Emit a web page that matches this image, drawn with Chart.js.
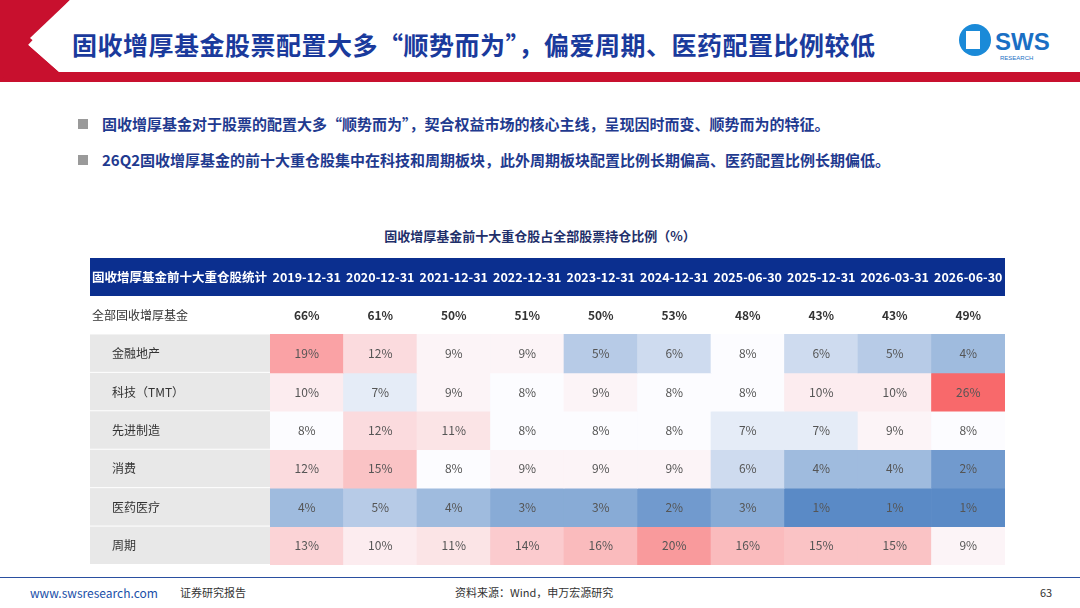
<!DOCTYPE html>
<html><head><meta charset="utf-8">
<script src="https://cdn.jsdelivr.net/npm/chart.js@4"></script>
<style>
body{margin:0;width:1080px;height:608px;overflow:hidden;background:#fff;font-family:"Noto Sans CJK SC","Noto Sans",sans-serif;position:relative}
.abs{position:absolute}
#title{left:72px;top:26px;font-size:25px;font-weight:bold;color:#1a3a9c;letter-spacing:0.5px}
.bul{left:78px;font-size:15px;font-weight:bold;color:#1f3a8f}
.bul span{display:inline-block;width:10px;height:10px;background:#9a9a9a;margin-right:14px;vertical-align:1px}
#ctitle{left:0;width:1080px;top:226px;text-align:center;font-size:13px;font-weight:bold;color:#1f2f6a}
.foot{top:584px;font-size:12px;color:#333}
</style></head><body>
<svg class="abs" style="left:0;top:0" width="1080" height="85">
<polygon points="0,0 70,0 28,45 70,82 0,82" fill="#c8102e"/>
<polygon points="70,0 1080,0 1080,72 70,72 30,38" fill="#fff"/>
<rect x="40" y="72" width="1040" height="10" fill="#c8102e"/>
<polygon points="0,82 70,82 28,45" fill="#c8102e"/>
<circle cx="975" cy="40" r="16" fill="#1a8ad8"/>
<rect x="966" y="31" width="14" height="18" fill="#fff"/>
<text x="995" y="50" font-size="24" font-weight="bold" fill="#1a6fc4" font-family="Liberation Sans">SWS</text>
<text x="1000" y="60" font-size="6" fill="#1a6fc4" font-family="Liberation Sans">RESEARCH</text>
</svg>
<div id="title" class="abs">固收增厚基金股票配置大多“顺势而为”，偏爱周期、医药配置比例较低</div>
<div class="abs bul" style="top:113px"><span></span>固收增厚基金对于股票的配置大多“顺势而为”，契合权益市场的核心主线，呈现因时而变、顺势而为的特征。</div>
<div class="abs bul" style="top:149px"><span></span>26Q2固收增厚基金的前十大重仓股集中在科技和周期板块，此外周期板块配置比例长期偏高、医药配置比例长期偏低。</div>
<div id="ctitle" class="abs">固收增厚基金前十大重仓股占全部股票持仓比例（%）</div>
<div class="abs" style="left:90px;top:258px;width:915px;height:307px"><canvas id="chart"></canvas></div>
<div class="abs" style="left:0;top:577px;width:1080px;height:1px;background:#2a4fa0"></div>
<div class="abs foot" style="left:30px;color:#1a4fa8">www.swsresearch.com</div>
<div class="abs foot" style="left:180px;font-size:11px">证券研究报告</div>
<div class="abs foot" style="left:455px;font-size:11px">资料来源：Wind，申万宏源研究</div>
<div class="abs foot" style="left:1040px;font-size:11px">63</div>
<script>
const headCorner = '固收增厚基金前十大重仓股统计';
const dates = ['2019-12-31','2020-12-31','2021-12-31','2022-12-31','2023-12-31','2024-12-31','2025-06-30','2025-12-31','2026-03-31','2026-06-30'];
const rowNames = ['全部固收增厚基金','金融地产','科技（TMT）','先进制造','消费','医药医疗','周期'];
const total   = [66,61,50,51,50,53,48,43,43,49];
const finance = [19,12,9,9,5,6,8,6,5,4];
const tech    = [10,7,9,8,9,8,8,10,10,26];
const manuf   = [8,12,11,8,8,8,7,7,9,8];
const consume = [12,15,8,9,9,9,6,4,4,2];
const pharma  = [4,5,4,3,3,2,3,1,1,1];
const cyclic  = [13,10,11,14,16,20,16,15,15,9];
const rows = [total, finance, tech, manuf, consume, pharma, cyclic];
const sectorRows = rows.slice(1);

function mix(a, b, t) {
  t = Math.max(0, Math.min(1, t));
  return 'rgb(' + a.map((v, i) => Math.round(v + (b[i] - v) * t)).join(',') + ')';
}
const RED = [248,105,107], WHITE = [252,252,255], BLUE = [90,138,198];
// one 3-colour scale over all sector cells
const allVals = sectorRows.flat().sort((a, b) => a - b);
const vMin = allVals[0], vMax = allVals[allVals.length - 1];
const vMid = (allVals[allVals.length / 2 - 1] + allVals[allVals.length / 2]) / 2;
function cellColor(v) {
  if (v >= vMid) return mix(WHITE, RED, (v - vMid) / (vMax - vMid));
  return mix(WHITE, BLUE, (vMid - v) / (vMid - vMin));
}

const datasets = rows.map((r, ri) => ({
  data: r.map(() => [ri, ri + 1]),
  backgroundColor: r.map(v => ri === 0 ? 'rgba(0,0,0,0)' : cellColor(v)),
  borderWidth: 0,
  barPercentage: 1,
  categoryPercentage: 1,
  grouped: false
}));

const FONT = '"Noto Sans CJK SC","Noto Sans",sans-serif';
const tablePlugin = {
  id: 'table',
  beforeDatasetsDraw(c) {
    const ctx = c.ctx, y = c.scales.y, a = c.chartArea;
    ctx.save();
    ctx.fillStyle = '#0b2f8f';
    ctx.fillRect(0, 0, a.right, a.top);
    ctx.fillStyle = '#e8e8e8';
    for (let i = 1; i < rows.length; i++) {
      ctx.fillRect(0, y.getPixelForValue(i), a.left, y.getPixelForValue(i + 1) - y.getPixelForValue(i) - 1);
    }
    ctx.restore();
  },
  afterDatasetsDraw(c) {
    const ctx = c.ctx, x = c.scales.x, y = c.scales.y, a = c.chartArea;
    ctx.save();
    ctx.textBaseline = 'middle';
    ctx.fillStyle = '#fff';
    ctx.font = 'bold 12.5px ' + FONT;
    ctx.textAlign = 'left';
    ctx.fillText(headCorner, 2, a.top / 2);
    ctx.textAlign = 'center';
    dates.forEach((d, i) => ctx.fillText(d, x.getPixelForValue(i), a.top / 2));
    rows.forEach((r, ri) => {
      const cy = (y.getPixelForValue(ri) + y.getPixelForValue(ri + 1)) / 2;
      ctx.textAlign = 'left';
      ctx.fillStyle = '#333';
      ctx.font = '12px ' + FONT;
      ctx.fillText(rowNames[ri], ri === 0 ? 2 : 22, cy);
      ctx.textAlign = 'center';
      ctx.font = (ri === 0 ? 'bold ' : '') + '12px ' + FONT;
      ctx.fillStyle = ri === 0 ? '#333' : '#555';
      r.forEach((v, ci) => ctx.fillText(v + '%', x.getPixelForValue(ci), cy));
    });
    ctx.restore();
  }
};

new Chart(document.getElementById('chart'), {
  type: 'bar',
  data: { labels: dates, datasets },
  options: {
    responsive: true,
    maintainAspectRatio: false,
    animation: false,
    layout: { padding: { left: 180, top: 38 } },
    plugins: { legend: { display: false }, tooltip: { enabled: false } },
    scales: {
      x: { display: false },
      y: { display: false, min: 0, max: 7, reverse: true }
    }
  },
  plugins: [tablePlugin]
});
</script>
</body></html>
